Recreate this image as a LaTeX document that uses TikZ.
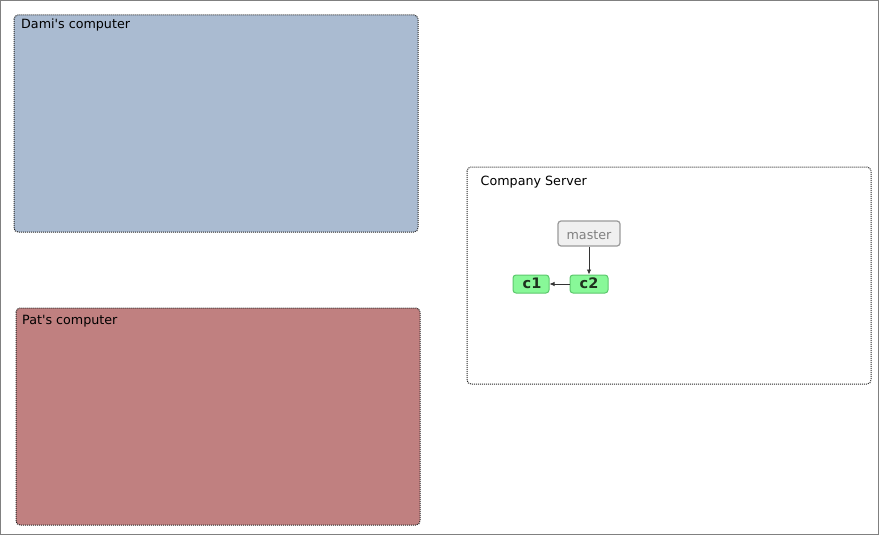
\documentclass[tikz,border=0pt]{standalone}
\usepackage{fontspec}
\setmainfont{DejaVu Sans}[Ligatures=TeXOff]
\usetikzlibrary{arrows.meta}
\definecolor{damifill}{HTML}{AABBD1}
\definecolor{patfill}{HTML}{C08080}
\definecolor{cfill}{HTML}{88F898}
\definecolor{cdraw}{HTML}{5CC86C}
\definecolor{ctext}{HTML}{1E321E}
\definecolor{mfill}{HTML}{F0F0F0}
\definecolor{mdraw}{HTML}{9A9A9A}
\tikzset{
  area/.style={draw=black!85, dash pattern=on 1pt off 1pt, rounded corners=4pt, line width=1pt},
  arealabel/.style={anchor=base west, inner sep=0pt, font=\fontsize{12.7}{14}\selectfont},
  commit/.style={draw=cdraw, fill=cfill, rounded corners=3pt, line width=1pt, inner sep=0pt, text height=9.6pt, text depth=0pt, font=\bfseries\fontsize{14.5}{16}\selectfont, text=ctext},
  branch/.style={draw=mdraw, fill=mfill, rounded corners=3pt, line width=1.2pt, inner sep=0pt, text height=12.5pt, text depth=0pt, text=gray, font=\fontsize{12.7}{14}\selectfont},
  link/.style={-{Latex[length=5pt,width=4.5pt]}, line width=0.8pt, black!80}
}
\begin{document}
\begin{tikzpicture}[x=1pt,y=-1pt]
\useasboundingbox (0,0) rectangle (879,535);
\draw[gray, line width=1pt] (0.5,0.5) rectangle (878.5,534.5);
% areas
\draw[area, fill=damifill] (14,15) rectangle (418,232);
\node[arealabel] (dami) at (21,29) {Dami's computer};
\draw[area, fill=patfill] (16,308) rectangle (420,525);
\node[arealabel] (pat) at (22,324.5) {Pat's computer};
\draw[area, fill=white] (467,167) rectangle (871,384);
\node[arealabel] (srv) at (480.5,185.5) {Company Server};
% commits
\node[branch, minimum width=62pt, minimum height=25pt] (master) at (589,233.5) {master};
\node[commit, minimum width=36pt, minimum height=18pt] (c1) at (531,284) {\hspace{2pt}c1};
\node[commit, minimum width=38pt, minimum height=18pt] (c2) at (589,284) {c2};
\draw[link] (master) -- (c2);
\draw[link] (c2) -- (c1);
\end{tikzpicture}
\end{document}
